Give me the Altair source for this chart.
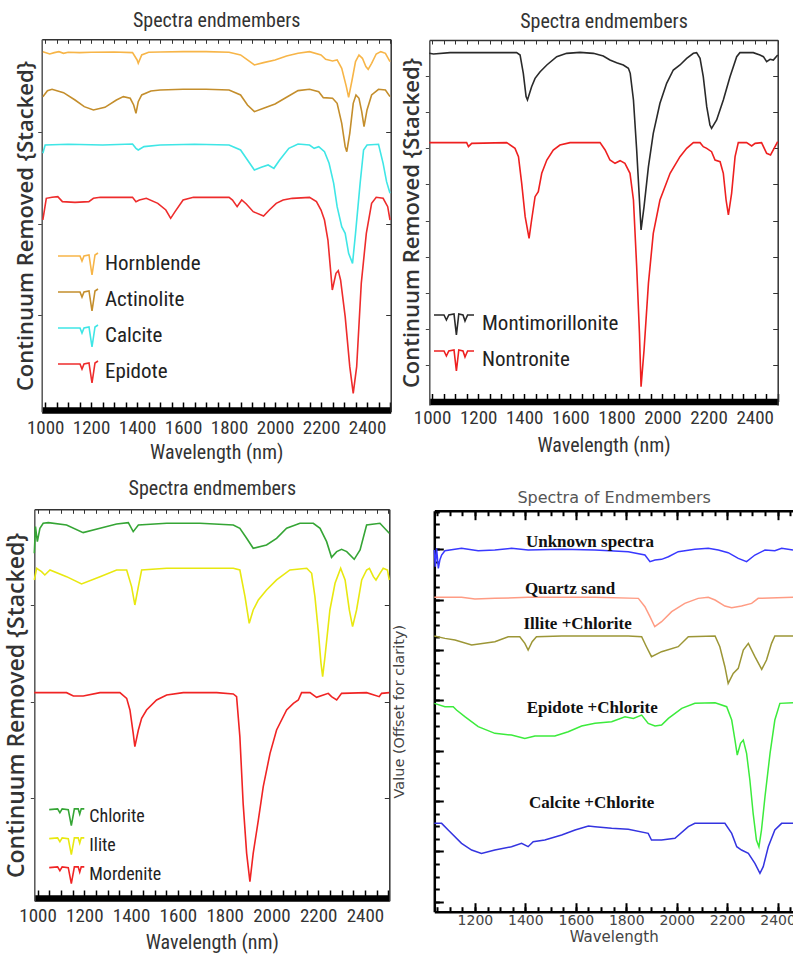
import altair as alt
import pandas as pd

W, H = 793, 955
NARROW = "'Liberation Sans Narrow', 'Arial Narrow', 'Roboto Condensed', Roboto, sans-serif"

# ---------------- Panel 1 data ----------------
p1_names = ["Hornblende", "Actinolite", "Calcite", "Epidote"]
p1_colors = ["#F7B548", "#C48E2C", "#3FE6E6", "#EE2C2C"]
hb_wl = [990,1020,1040,1060,1080,1100,1150,1200,1300,1380,1400,1405,1420,1450,1500,1600,1700,1800,1850,1880,1910,1950,2000,2050,2100,2150,2200,2220,2250,2270,2290,2310,2320,2335,2350,2365,2380,2395,2405,2420,2440,2460,2480,2500]
hb_val = [10.80,10.73,10.77,10.80,10.75,10.78,10.77,10.78,10.79,10.77,10.55,10.45,10.70,10.78,10.79,10.80,10.80,10.78,10.70,10.55,10.40,10.47,10.55,10.67,10.75,10.80,10.70,10.57,10.52,10.55,10.30,9.75,9.43,9.95,10.50,10.70,10.60,10.35,10.27,10.45,10.73,10.80,10.75,10.50]
act_wl = [990,1010,1030,1080,1130,1170,1210,1260,1310,1340,1370,1385,1395,1405,1420,1460,1500,1600,1700,1800,1850,1880,1910,1950,2000,2050,2100,2150,2190,2210,2250,2270,2290,2305,2312,2325,2340,2352,2365,2377,2387,2400,2420,2450,2480,2500]
act_val = [9.45,9.63,9.67,9.57,9.35,9.15,9.05,9.13,9.35,9.45,9.40,9.20,8.95,9.30,9.50,9.62,9.65,9.67,9.67,9.65,9.50,9.20,9.00,9.10,9.23,9.43,9.63,9.67,9.60,9.42,9.40,9.25,8.65,7.95,7.80,8.35,9.25,9.50,9.40,9.00,8.55,9.05,9.50,9.67,9.65,9.45]
cal_wl = [990,1000,1100,1250,1380,1395,1405,1430,1500,1650,1800,1850,1880,1910,1940,1970,1995,2020,2060,2100,2150,2170,2190,2215,2235,2255,2270,2290,2305,2320,2337,2350,2370,2385,2400,2450,2470,2485,2500]
cal_val = [7.75,8.00,8.02,8.00,8.03,7.90,7.85,7.95,8.00,8.02,8.00,7.85,7.55,7.25,7.33,7.40,7.30,7.55,7.90,8.03,8.00,7.90,7.95,7.80,7.45,6.85,6.15,5.55,5.35,4.75,4.45,5.35,6.85,7.85,8.00,8.02,7.45,6.90,6.55]
ep_wl = [990,1005,1030,1055,1075,1130,1190,1210,1240,1380,1395,1410,1440,1490,1525,1546,1565,1600,1645,1800,1815,1835,1855,1875,1905,1950,1975,2005,2035,2075,2150,2180,2200,2215,2230,2249,2265,2275,2285,2305,2325,2340,2355,2375,2397,2420,2440,2470,2490,2500]
ep_val = [5.75,6.40,6.43,6.45,6.30,6.28,6.30,6.40,6.43,6.43,6.30,6.35,6.40,6.25,6.05,5.80,6.00,6.35,6.43,6.43,6.35,6.15,6.35,6.23,6.00,5.87,6.05,6.25,6.35,6.40,6.43,6.30,6.05,5.75,5.15,3.65,4.15,4.23,3.95,2.85,1.35,0.55,1.35,3.85,5.35,6.25,6.43,6.40,6.15,5.75]

# ---------------- Panel 2 data ----------------
p2_names = ["Montimorillonite", "Nontronite"]
p2_colors = ["#2A2A2A", "#EE2020"]
mont_wl = [988,1006,1078,1295,1367,1382,1396,1408,1414,1432,1447,1469,1498,1541,1584,1642,1700,1743,1772,1801,1830,1852,1860,1874,1888,1900,1907,1920,1939,1960,1989,2018,2047,2076,2105,2134,2148,2163,2177,2192,2206,2213,2235,2264,2293,2322,2336,2394,2423,2438,2452,2467,2481,2500]
mont_val = [10.55,10.53,10.57,10.57,10.57,10.50,9.95,9.25,9.15,9.55,9.80,10.00,10.20,10.45,10.55,10.58,10.55,10.47,10.35,10.27,10.20,10.10,9.95,9.15,7.65,6.15,5.25,5.95,7.15,8.15,9.05,9.65,10.05,10.20,10.40,10.55,10.57,10.40,9.85,8.95,8.40,8.30,8.55,9.15,9.85,10.45,10.57,10.57,10.50,10.45,10.30,10.37,10.35,10.50]
non_wl = [988,1150,1158,1172,1324,1360,1375,1389,1404,1421,1432,1447,1461,1476,1498,1526,1555,1599,1729,1751,1772,1794,1816,1837,1859,1874,1888,1900,1907,1920,1939,1960,1989,2033,2076,2105,2134,2163,2177,2192,2213,2228,2250,2264,2276,2286,2300,2315,2329,2365,2387,2402,2430,2452,2469,2500]
non_val = [7.87,7.87,7.75,7.85,7.87,7.70,7.45,6.65,5.65,5.00,5.55,6.25,6.40,6.95,7.35,7.65,7.80,7.87,7.87,7.65,7.35,7.25,7.33,7.25,6.95,6.15,4.15,2.15,0.55,1.65,3.65,5.15,6.15,6.95,7.45,7.70,7.87,7.87,7.75,7.70,7.60,7.35,7.30,6.95,6.15,5.70,6.35,7.45,7.87,7.87,7.77,7.85,7.87,7.55,7.50,7.90]

# ---------------- Panel 3 data ----------------
p3_names = ["Chlorite", "Ilite", "Mordenite"]
p3_colors = ["#35A535", "#E8E810", "#F02424"]
chl_wl = [986,991,999,1010,1024,1046,1124,1195,1267,1338,1388,1409,1431,1552,1694,1837,1865,1894,1922,1979,2022,2065,2122,2179,2208,2236,2257,2279,2300,2322,2354,2379,2407,2464,2504]
chl_val = [10.42,11.22,10.77,11.17,11.32,11.34,11.27,11.04,11.17,11.30,11.34,11.07,11.27,11.32,11.32,11.27,11.17,10.87,10.57,10.67,10.87,11.17,11.32,11.32,11.17,10.77,10.30,10.47,10.54,10.47,10.24,10.52,11.27,11.32,11.02]
ill_wl = [986,996,1017,1031,1053,1124,1188,1267,1338,1381,1402,1416,1431,1445,1552,1694,1837,1865,1887,1905,1922,1944,1979,2022,2079,2151,2172,2186,2200,2212,2219,2229,2250,2272,2296,2315,2333,2347,2364,2386,2407,2419,2436,2447,2464,2478,2496,2504]
ill_val = [9.62,9.97,9.87,9.77,9.92,9.72,9.50,9.72,9.92,9.92,9.42,8.87,9.42,9.92,9.97,9.97,9.97,9.92,9.12,8.32,8.72,9.02,9.32,9.62,9.92,9.97,9.82,9.12,8.12,7.12,6.72,7.32,8.72,9.52,9.97,9.62,8.72,8.22,8.72,9.62,9.92,9.97,9.72,9.62,9.82,9.97,9.92,9.62]
mor_wl = [986,1124,1153,1195,1267,1352,1381,1395,1409,1416,1431,1445,1466,1509,1552,1623,1766,1837,1851,1865,1879,1894,1908,1922,1944,1965,1994,2022,2065,2094,2115,2129,2165,2193,2222,2243,2257,2279,2300,2407,2461,2471,2504]
mor_val = [6.24,6.24,6.14,6.14,6.24,6.24,6.07,5.72,5.02,4.62,5.12,5.47,5.72,6.02,6.17,6.24,6.24,6.20,6.12,4.92,2.92,1.42,0.57,1.42,2.42,3.42,4.42,5.12,5.72,5.92,6.02,6.24,6.24,6.10,6.17,6.22,6.12,6.02,6.22,6.24,6.12,6.22,6.24]

# ---------------- Panel 4 data ----------------
p4_names = ["Unknown spectra", "Quartz sand", "Illite +Chlorite", "Epidote +Chlorite", "Calcite +Chlorite"]
p4_colors = ["#3838FF", "#FF9C84", "#9C9636", "#3CEB3C", "#3434E0"]
unk_wl = [1039,1043,1048,1055,1061,1068,1081,1147,1213,1279,1345,1411,1544,1676,1808,1874,1894,1914,1940,1967,2006,2072,2125,2165,2204,2244,2277,2310,2350,2389,2416,2461]
unk_val = [10.85,10.35,10.90,10.30,10.55,10.70,10.83,10.90,10.83,10.85,10.90,10.85,10.87,10.85,10.80,10.70,10.50,10.55,10.57,10.65,10.80,10.87,10.90,10.85,10.77,10.60,10.50,10.70,10.85,10.83,10.90,10.85]
qtz_wl = [1039,1147,1200,1279,1411,1676,1848,1874,1894,1913,1940,1980,2032,2085,2125,2152,2191,2218,2257,2297,2323,2461]
qtz_val = [9.43,9.43,9.38,9.40,9.43,9.43,9.40,9.15,8.85,8.55,8.70,9.00,9.25,9.40,9.43,9.35,9.17,9.12,9.17,9.25,9.40,9.43]
ic_wl = [1039,1081,1121,1187,1279,1332,1378,1398,1411,1427,1444,1544,1808,1861,1880,1900,1940,2006,2046,2152,2171,2191,2204,2224,2244,2264,2284,2310,2337,2356,2376,2389,2461]
ic_val = [8.27,8.20,8.15,8.00,8.10,8.25,8.25,8.05,7.85,8.10,8.25,8.27,8.27,8.25,7.95,7.65,7.80,7.95,8.25,8.27,7.95,7.35,6.85,7.15,7.30,7.85,8.05,7.65,7.27,7.55,8.05,8.27,8.27]
ec_wl = [1039,1081,1114,1127,1160,1213,1279,1345,1398,1438,1517,1570,1623,1676,1742,1795,1828,1861,1887,1914,1940,1967,2020,2072,2152,2198,2218,2231,2240,2253,2264,2277,2290,2303,2316,2326,2336,2350,2370,2389,2409,2461]
ec_val = [6.25,6.15,6.15,6.05,5.85,5.55,5.35,5.30,5.20,5.27,5.27,5.40,5.57,5.65,5.70,5.85,5.80,5.90,5.65,5.57,5.60,5.80,6.10,6.25,6.27,6.15,5.75,5.15,4.70,5.05,5.15,4.75,3.95,2.95,2.15,1.95,2.45,3.45,4.75,5.75,6.25,6.27]
cc_wl = [1039,1068,1094,1147,1187,1226,1279,1345,1385,1411,1431,1477,1544,1597,1650,1676,1742,1808,1887,1900,1940,1993,2046,2072,2191,2218,2238,2257,2284,2310,2330,2343,2363,2389,2416,2461]
cc_val = [2.65,2.65,2.45,2.05,1.85,1.75,1.85,1.95,2.05,1.95,2.10,2.15,2.30,2.45,2.57,2.55,2.50,2.47,2.35,2.15,2.15,2.20,2.55,2.65,2.65,2.35,1.95,1.85,1.75,1.45,1.15,1.35,1.95,2.45,2.65,2.65]
lab_text = ["Unknown spectra", "Quartz sand", "Illite +Chlorite", "Epidote +Chlorite", "Calcite +Chlorite"]
lab_wl = [1656, 1577, 1607, 1665, 1663]
lab_val = [11.10, 9.67, 8.63, 6.12, 3.27]


def to_df(series):
    rows = []
    for name, wl, val in series:
        for w, v in zip(wl, val):
            rows.append({"wl": w, "val": v, "series": name})
    return pd.DataFrame(rows)


df1 = to_df([(p1_names[0], hb_wl, hb_val), (p1_names[1], act_wl, act_val),
             (p1_names[2], cal_wl, cal_val), (p1_names[3], ep_wl, ep_val)])
df2 = to_df([(p2_names[0], mont_wl, mont_val), (p2_names[1], non_wl, non_val)])
df3 = to_df([(p3_names[0], chl_wl, chl_val), (p3_names[1], ill_wl, ill_val),
             (p3_names[2], mor_wl, mor_val)])
df4 = to_df([(p4_names[0], unk_wl, unk_val), (p4_names[1], qtz_wl, qtz_val),
             (p4_names[2], ic_wl, ic_val), (p4_names[3], ec_wl, ec_val),
             (p4_names[4], cc_wl, cc_val)])
df4_lab = pd.DataFrame({"label": lab_text, "wl": lab_wl, "val": lab_val})

XLAB = list(range(1000, 2401, 200))
X50 = list(range(1000, 2501, 50))


def std_panel(df, names, colors, xd, xr, yd, yr, band, lab_y, xt_y, title_y,
              yt_x, ytick, legend, ytitle_size):
    x0, x1 = xr
    y1, y0 = yr
    xs = alt.Scale(domain=xd, range=xr, nice=False, zero=False)
    ys = alt.Scale(domain=yd, range=yr, nice=False, zero=False)
    base = alt.Chart(df)
    A = base.mark_line(strokeWidth=1.6).encode(
        x=alt.X("wl:Q", scale=xs, axis=alt.Axis(
            orient="bottom", offset=band - H, values=XLAB, format="d", ticks=False,
            labelPadding=lab_y - band, labelBaseline="middle", labelFont=NARROW,
            labelFontSize=19, labelColor="#333", labelFlush=False, labelOverlap=False,
            domainColor="#000", domainWidth=6.5, title="Wavelength (nm)",
            titleFont=NARROW, titleFontSize=20, titleFontWeight="normal",
            titleColor="#333", titleY=xt_y - band, titleBaseline="middle", grid=False)),
        y=alt.Y("val:Q", scale=ys, axis=alt.Axis(
            orient="left", offset=-x0, values=ytick, labels=False, ticks=True,
            tickSize=4, tickColor="#444", domainColor="#555", domainWidth=1.5,
            title="Continuum Removed {Stacked}", titleFont="Open Sans",
            titleFontSize=ytitle_size, titleFontWeight=600, titleColor="#333",
            titleX=yt_x - x0, titleBaseline="middle", grid=False)),
        color=alt.Color("series:N", scale=alt.Scale(domain=names, range=colors),
                        legend=legend),
    )
    B = base.mark_point(opacity=0).encode(
        x=alt.X("wl:Q", scale=xs, axis=alt.Axis(
            orient="bottom", offset=y0 - H, values=X50, labels=False, ticks=True,
            tickSize=4, tickColor="#333", domainColor="#333", domainWidth=1.5,
            title="Spectra endmembers", titleFont=NARROW, titleFontSize=20,
            titleFontWeight="normal", titleColor="#333", titleY=title_y - y0,
            titleBaseline="middle", grid=False)),
        y=alt.Y("val:Q", scale=ys, axis=alt.Axis(
            orient="left", offset=-x1, values=ytick, labels=False, ticks=True,
            tickSize=5, tickColor="#333", domainColor="#333", domainWidth=1.5,
            title=None, grid=False)),
    )
    C = base.mark_point(opacity=0).encode(
        x=alt.X("wl:Q", scale=xs, axis=alt.Axis(
            orient="top", offset=-band, values=X50, labels=False, ticks=True,
            tickSize=8, tickColor="#000", tickWidth=1.5, domain=False, title=None,
            grid=False)),
        y=alt.Y("val:Q", scale=ys, axis=None),
    )
    return [A, B, C]


def mk_legend(x, y, path, size, font, fsize, offset):
    return alt.Legend(orient="none", legendX=x, legendY=y, title=None,
                      symbolType=path, symbolSize=size, symbolStrokeWidth=1.6,
                      symbolFillColor="transparent", labelFont=font,
                      labelFontSize=fsize, labelColor="#222", labelOffset=offset,
                      padding=0, rowPadding=0)


PATH1 = "M-1,-0.4L0.1,-0.4L0.2,-0.15L0.3,-0.4L0.55,-0.45L0.7,0.55L0.85,-0.45L1,-0.55"
PATH2 = "M-1,-0.45L-0.5,-0.45L-0.38,-0.2L-0.26,-0.45L0,-0.5L0.12,0.55L0.24,-0.5L0.45,-0.45L0.55,-0.15L0.68,-0.45L1,-0.45"
PATH3 = "M-1.15,-0.45L-0.6,-0.5L-0.45,-0.25L-0.3,-0.5L0.1,-0.45L0.3,0.6L0.5,-0.5L0.75,-0.5L0.85,-0.15L0.95,-0.5L1.15,-0.5"

layers = []
layers += std_panel(df1, p1_names, p1_colors, [985, 2503], [41.7, 390.7], [0, 11.17],
                    [411.7, 39.3], 410, 427, 452, 20, 25, [2.9, 5.62, 8.4],
                    mk_legend(57, 243, PATH1, 1600, NARROW, 21, 6), 22)
layers += std_panel(df2, p2_names, p2_colors, [988, 2500], [429.3, 777.7], [0, 10.95],
                    [405, 40], 401.5, 417, 445, 21.7, 411.7,
                    [1.2, 2.28, 3.37, 4.45, 5.53, 6.62, 7.7, 8.79, 9.87],
                    mk_legend(433, 303, PATH2, 1600, NARROW, 21, 7), 22)
layers += std_panel(df3, p3_names, p3_colors, [986, 2504], [34.3, 389.3], [0, 11.74],
                    [900.7, 509.3], 898, 915, 942, 488.3, 16.7, [3.07, 5.97, 8.87],
                    mk_legend(50.25, 800, PATH3, 930, NARROW, 18, 6), 23)

# ---------------- Panel 4 ----------------
x0, x1, y0, y1 = 434.3, 793, 510.7, 911.7
xs4 = alt.Scale(domain=[1039, 2461], range=[x0, x1], nice=False, zero=False)
ys4 = alt.Scale(domain=[0, 12.03], range=[y1, y0], nice=False, zero=False)
HERSHEY = "DejaVu Sans"
Y_MAJ = [round(0.3 + 1.51 * k, 3) for k in range(8)]
Y_MIN = [round(0.3 + 0.3775 * k, 3) for k in range(32)]
X_MAJ = list(range(1200, 2401, 200))
X_MIN = list(range(1050, 2451, 50))
b4 = alt.Chart(df4)
A4 = b4.mark_line(strokeWidth=1.5).encode(
    x=alt.X("wl:Q", scale=xs4, axis=alt.Axis(
        orient="bottom", offset=y1 - H, values=X_MAJ, format="d", ticks=False,
        labelPadding=9, labelBaseline="middle", labelFont=HERSHEY, labelFontSize=14,
        labelColor="#444", labelFlush=False, labelOverlap=False, domainColor="#000",
        domainWidth=2.5, title="Wavelength", titleFont=HERSHEY, titleFontSize=15,
        titleFontWeight="normal", titleColor="#444", titleY=25,
        titleBaseline="middle", grid=False)),
    y=alt.Y("val:Q", scale=ys4, axis=alt.Axis(
        orient="right", offset=x0 - W, values=Y_MAJ, labels=False, ticks=True,
        tickSize=9, tickWidth=2, tickColor="#000", domainColor="#000", domainWidth=2.5,
        title="Value (Offset for clarity)", titleFont=HERSHEY, titleFontSize=14.5,
        titleFontWeight="normal", titleColor="#444", titleX=399 - x0, titleAngle=270,
        titleBaseline="middle", grid=False)),
    color=alt.Color("series:N", scale=alt.Scale(domain=p4_names, range=p4_colors),
                    legend=None),
)
B4 = b4.mark_point(opacity=0).encode(
    x=alt.X("wl:Q", scale=xs4, axis=alt.Axis(
        orient="bottom", offset=y0 - H, values=X_MAJ, labels=False, ticks=True,
        tickSize=9, tickWidth=2, tickColor="#000", domainColor="#000", domainWidth=2.5,
        title="Spectra of Endmembers", titleFont=HERSHEY, titleFontSize=16,
        titleFontWeight="normal", titleColor="#555", titleY=497 - y0,
        titleBaseline="middle", grid=False)),
    y=alt.Y("val:Q", scale=ys4, axis=alt.Axis(
        orient="right", offset=x0 - W, values=Y_MIN, labels=False, ticks=True,
        tickSize=5, tickWidth=2, tickColor="#000", domain=False, title=None,
        grid=False)),
)
C4 = b4.mark_point(opacity=0).encode(
    x=alt.X("wl:Q", scale=xs4, axis=alt.Axis(
        orient="bottom", offset=y0 - H, values=X_MIN, labels=False, ticks=True,
        tickSize=5, tickWidth=2, tickColor="#000", domain=False, title=None, grid=False)),
    y=alt.Y("val:Q", scale=ys4, axis=None),
)
D4 = b4.mark_point(opacity=0).encode(
    x=alt.X("wl:Q", scale=xs4, axis=alt.Axis(
        orient="top", offset=-y1, values=X_MAJ, labels=False, ticks=True,
        tickSize=9, tickWidth=2, tickColor="#000", domain=False, title=None, grid=False)),
    y=alt.Y("val:Q", scale=ys4, axis=None),
)
E4 = b4.mark_point(opacity=0).encode(
    x=alt.X("wl:Q", scale=xs4, axis=alt.Axis(
        orient="top", offset=-y1, values=X_MIN, labels=False, ticks=True,
        tickSize=5, tickWidth=2, tickColor="#000", domain=False, title=None, grid=False)),
    y=alt.Y("val:Q", scale=ys4, axis=None),
)
T4 = alt.Chart(df4_lab).mark_text(font="Liberation Serif", fontWeight="bold",
                                  fontSize=17, color="#111").encode(
    x=alt.X("wl:Q", scale=xs4, axis=None),
    y=alt.Y("val:Q", scale=ys4, axis=None),
    text="label:N",
)
layers += [A4, B4, C4, D4, E4, T4]

chart = alt.layer(*layers).resolve_scale(
    x="independent", y="independent", color="independent"
).resolve_axis(x="independent", y="independent").properties(
    width=W, height=H, padding=0, autosize=alt.AutoSizeParams(type="none"),
    background="white",
).configure_view(stroke=None)

chart.save("out.html", embed_options={"renderer": "svg", "actions": False})
